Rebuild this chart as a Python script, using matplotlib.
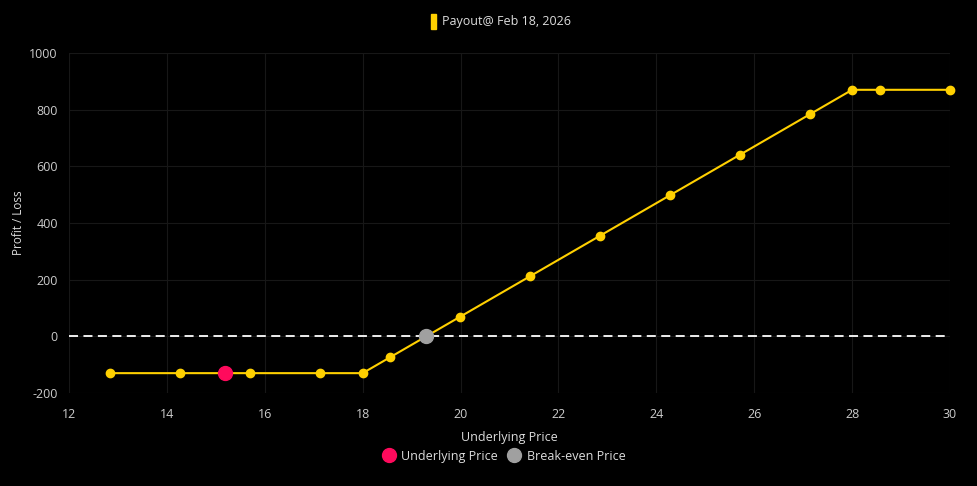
import matplotlib.pyplot as plt
from matplotlib.lines import Line2D
from matplotlib.patches import Rectangle

# ----- Data ----- #
prices = [12.84, 14.27, 15.70, 17.13, 18.00, 18.56, 19.99, 21.42,
          22.85, 24.28, 25.71, 27.14, 28.00, 28.57, 30.00]
payout = [-130, -130, -130, -130, -130, -74, 69, 212,
          355, 498, 641, 784, 870, 870, 870]
underlying_price = 15.18
underlying_pl = -130
breakeven_price = 19.30
breakeven_pl = 0

plt.rcParams['font.family'] = ['Open Sans', 'DejaVu Sans']
plt.rcParams['axes.unicode_minus'] = False

fig = plt.figure(figsize=(9.77, 4.86), dpi=100, facecolor='black')
ax = fig.add_axes([0.0706, 0.1914, 0.9018, 0.6996], facecolor='black')

# grid
ax.set_xlim(12, 30)
ax.set_ylim(-200, 1000)
ax.set_xticks(range(12, 31, 2))
ax.set_yticks(range(-200, 1001, 200))
ax.grid(True, color='#171717', linewidth=0.8)
ax.set_axisbelow(True)
for s in ax.spines.values():
    s.set_visible(False)
ax.tick_params(colors='#cccccc', labelsize=9, length=0)
ax.tick_params(axis='x', pad=11)
ax.tick_params(axis='y', pad=8)

# zero line
ax.axhline(0, color='white', linestyle=(0, (5, 3)), linewidth=1.3, zorder=2)

# payout line
ax.plot(prices, payout, color='#FFD000', linewidth=1.5, marker='o',
        markersize=6, clip_on=False, zorder=3)

# markers
ax.plot(underlying_price, underlying_pl, 'o', color='#FF0A5C',
        markersize=10, zorder=4)
ax.plot(breakeven_price, breakeven_pl, 'o', color='#A0A0A0',
        markersize=10, zorder=4)

ax.set_xlabel('Underlying Price', color='#dddddd', fontsize=9, labelpad=7)
ax.set_ylabel('Profit / Loss', color='#dddddd', fontsize=8.5, labelpad=3)

# top legend
fig.patches.append(Rectangle((431 / 977, 1 - 29 / 486), 5 / 977, 15 / 486,
                             transform=fig.transFigure, color='#FFD000'))
fig.text(442 / 977, 1 - 21 / 486, 'Payout@ Feb 18, 2026', color='#dddddd',
         fontsize=9, ha='left', va='center')

# bottom legend
handles = [Line2D([], [], marker='o', linestyle='', color='#FF0A5C', markersize=10),
           Line2D([], [], marker='o', linestyle='', color='#A0A0A0', markersize=10)]
leg = fig.legend(handles, ['Underlying Price', 'Break-even Price'], loc='center',
                 bbox_to_anchor=(0.516, 0.061), ncol=2, frameon=False,
                 fontsize=9, handletextpad=0.5, columnspacing=0.8,
                 handlelength=1.0)
for t in leg.get_texts():
    t.set_color('#dddddd')

fig.savefig('out.png', dpi=100, facecolor='black')
